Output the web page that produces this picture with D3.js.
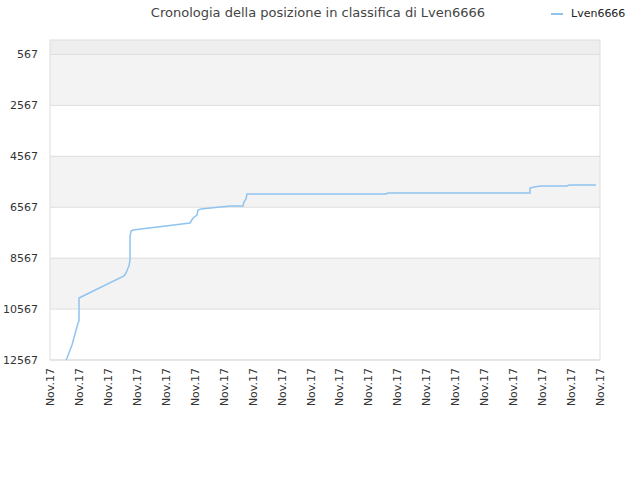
<!DOCTYPE html>
<html><head><meta charset="utf-8">
<script src="https://cdn.jsdelivr.net/npm/d3@7"></script>
<style>body{margin:0;background:#fff}text{font-family:"DejaVu Sans",sans-serif}</style>
</head><body><svg id="c" width="640" height="480"></svg>
<script>
// sample number (time step) and ranking position
const steps = [16,17,22,28,29,29,31,74,76,78,79,80,80,81,83,140,143,147,148,151,180,193,194,196,197,336,338,480,480,484,491,517,519,546];
const ranks = [12567,12488,11978,11114,11035,10132,10092,9268,9150,8954,8875,8640,7736,7500,7461,7186,6990,6872,6676,6637,6519,6519,6362,6244,6048,6048,6008,6008,5812,5772,5733,5733,5694,5694];
const yTicks = [567,2567,4567,6567,8567,10567,12567];
const xLabels = d3.range(20).map(() => "Nov.17");

const svg = d3.select("#c");
const L = 50, R = 600, T = 40, B = 360;
const x = d3.scaleLinear().domain([0, 550]).range([L, R]);
const y = d3.scaleLinear().domain([0, 12567]).range([T, B]);

// bands
const edges = [0, ...yTicks];
for (let i = 0; i < edges.length - 1; i++) {
  const fill = i === 0 ? "#eeeeee" : (i % 2 === 1 ? "#f3f3f3" : "#ffffff");
  svg.append("rect").attr("x", L).attr("y", y(edges[i])).attr("width", R - L)
    .attr("height", y(edges[i + 1]) - y(edges[i])).attr("fill", fill);
}
yTicks.forEach(t => svg.append("line").attr("x1", L).attr("x2", R).attr("y1", y(t)).attr("y2", y(t)).attr("stroke", "#dddddd"));
svg.append("rect").attr("x", L).attr("y", T).attr("width", R - L).attr("height", B - T)
  .attr("fill", "none").attr("stroke", "#dddddd");

svg.selectAll(".yl").data(yTicks).join("text").attr("x", 38).attr("y", d => y(d) + 4)
  .attr("text-anchor", "end").attr("font-size", 11).attr("fill", "#333").text(d => d);

const xs = d3.scaleLinear().domain([0, 19]).range([L, R]);
svg.selectAll(".xl").data(xLabels).join("text")
  .attr("transform", (d, i) => `translate(${xs(i) + 4},${B + 8}) rotate(-90)`)
  .attr("text-anchor", "end").attr("font-size", 11).attr("fill", "#333").text(d => d);

const line = d3.line().x((d, i) => x(steps[i])).y(d => y(d));
svg.append("path").attr("d", line(ranks)).attr("fill", "none")
  .attr("stroke", "#90c4f0").attr("stroke-width", 1.5);

svg.append("text").attr("x", 318).attr("y", 17).attr("text-anchor", "middle")
  .attr("font-size", 13).attr("fill", "#444").text("Cronologia della posizione in classifica di Lven6666");
svg.append("line").attr("x1", 551).attr("x2", 563).attr("y1", 14).attr("y2", 14).attr("stroke", "#90c4f0").attr("stroke-width", 2);
svg.append("text").attr("x", 571).attr("y", 17).attr("font-size", 11).attr("fill", "#222").text("Lven6666");
</script></body></html>
